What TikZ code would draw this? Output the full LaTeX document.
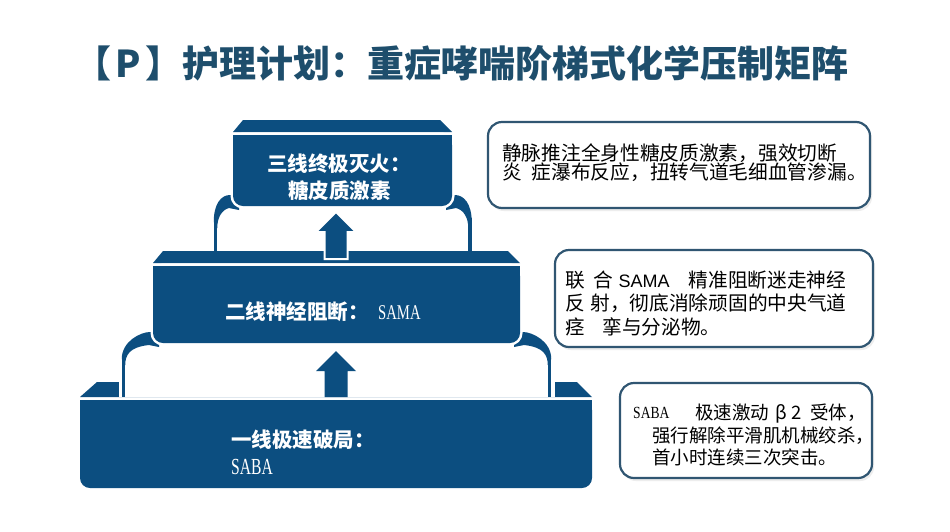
\documentclass[tikz,border=0pt]{standalone}
\usepackage{fontspec}
\usepackage{graphicx}
\setmainfont{Liberation Serif}
\newfontfamily\cjk{Noto Sans CJK SC}
\newfontfamily\arialf{Liberation Sans}
\newfontfamily\tnrf{Liberation Serif}
\definecolor{tierc}{RGB}{12,78,128}
\definecolor{ttlc}{RGB}{30,78,108}
\definecolor{cbord}{RGB}{48,86,114}
\newcommand\myflare[4]{%
\fill[tierc] ({#1-(#4)*1.75},{#3+16}) .. controls ({#1-(#4)*1.75},{#3-2}) and ({#2-(#4)*12},{#3-11}) .. ({#2-(#4)*3},{#3-11}) -- ({#2+(#4)*6},{#3-11}) -- ({#2+(#4)*6},{#3+4}) -- ({#2-(#4)*4},{#3+2}) .. controls ({#1+(#4)*6},{#3+4}) and ({#1+(#4)*1.75},{#3+12}) .. ({#1+(#4)*1.75},{#3+22}) -- cycle;}
\begin{document}
\begin{tikzpicture}[x=1pt,y=-1pt,
  tiertxt/.style={text=white, font=\cjk\bfseries\fontsize{20.5}{20.5}\selectfont, inner sep=0pt, anchor=base west},
  sertxt/.style={text=white, inner sep=0pt, anchor=base west},
  cbox/.style={draw=cbord, line width=2.2pt, fill=white, rounded corners=14pt},
  cshadow/.style={fill=black!7, rounded corners=14pt},
  ctxt/.style={text=black, font=\cjk\fontsize{19.7}{19.7}\selectfont, inner sep=0pt, anchor=base west},
  ctxtb/.style={text=black, font=\cjk\fontsize{18.5}{18.5}\selectfont, inner sep=0pt, anchor=base west},
  fline/.style={draw=tierc, line width=3.5pt},
  fhalo/.style={draw=white, line width=10pt},
  boxgap/.style={draw=white, line width=5pt, rounded corners=10pt}]
\useasboundingbox (0,0) rectangle (950,531);
\fill[white] (0,0) rectangle (950,531);

% title
\node[text=ttlc, font=\cjk\bfseries\fontsize{37}{37}\selectfont, inner sep=0pt, anchor=base] (title) at (461.5,77) {【\hspace{4pt}P\hspace{4pt}】护理计划：重症哮喘阶梯式化学压制矩阵};

% ---------- bottom tier ----------
\fill[tierc] (80,397) -- (97,382) -- (577,382) -- (592,397) -- cycle;
\fill[tierc, rounded corners=10pt] (80,400) rectangle (592,488);
\fill[tierc] (80,400) rectangle (592,414);

% frame 1
\fill[white] (123.5,343) rectangle (549.5,397);
\draw[fhalo] (123.5,352) -- (123.5,397) (549.5,352) -- (549.5,397);
\draw[fline] (123.5,355) -- (123.5,397) (549.5,355) -- (549.5,397);
\myflare{123.5}{153}{343}{1}
\myflare{549.5}{520}{343}{-1}
% arrow 1
\fill[tierc] (336,351) -- (356,371) -- (347.5,371) -- (347.5,397) -- (324.5,397) -- (324.5,371) -- (316,371) -- cycle;

% ---------- middle tier ----------
\fill[tierc] (153,263) -- (163,251) -- (508,251) -- (520,263) -- cycle;
\draw[boxgap] (153,266) rectangle (520,343);
\fill[tierc, rounded corners=10pt] (153,266) rectangle (520,343);
\fill[tierc] (153,266) rectangle (520,280);

% frame 2
\fill[white] (215.5,206) rectangle (470,251);
\draw[fline] (215.5,218) -- (215.5,251) (470,218) -- (470,251);
\myflare{215.5}{233}{206}{1}
\myflare{470}{452}{206}{-1}
% arrow 2
\filldraw[fill=tierc, draw=white, line width=2pt] (336,212) -- (356,232) -- (347.5,232) -- (347.5,259) -- (324.5,259) -- (324.5,232) -- (316,232) -- cycle;

% ---------- top tier ----------
\fill[tierc] (233,132) -- (243,120) -- (440,120) -- (452,132) -- cycle;
\draw[boxgap] (233,135) rectangle (452,206);
\fill[tierc, rounded corners=10pt] (233,135) rectangle (452,206);
\fill[tierc] (233,135) rectangle (452,148);

% tier texts
\node[tiertxt] (t3a) at (267,171) {三线终极灭火：};
\node[tiertxt] (t3b) at (288,198) {糖皮质激素};
\node[tiertxt] (t2a) at (225,319.5) {二线神经阻断：};
\node[sertxt, font=\tnrf\fontsize{21}{21}\selectfont] (t2b) at (378,319) {\scalebox{0.7}[1]{SAMA}};
\node[tiertxt] (t1a) at (231,447.5) {一线极速破局：};
\node[sertxt, font=\tnrf\fontsize{23}{23}\selectfont] (t1b) at (231,474) {\scalebox{0.68}[1]{SABA}};

% ---------- callouts ----------
\fill[cshadow] (490,125) rectangle (872,211);
\draw[cbox] (488,122) rectangle (870,208);
\node[ctxt] (c1a) at (502,160.5) {静脉推注全身性糖皮质激素，强效切断};
\node[ctxt] (c1b) at (502,179.5) {炎\hspace{10pt}症瀑布反应，扭转气道毛细血管渗漏。};

\fill[cshadow] (557,253) rectangle (875,350);
\draw[cbox] (555,250) rectangle (873,347);
\node[ctxt] (c2a) at (565,287.5) {联\hspace{8.5pt}合\hspace{5.5pt}{\arialf\fontsize{18}{18}\selectfont SAMA}\hspace{19pt}精准阻断迷走神经};
\node[ctxt] (c2b) at (565,310.5) {反\hspace{5.5pt}射，彻底消除顽固的中央气道};
\node[ctxt] (c2c) at (565,334.5) {痉\hspace{17.5pt}挛与分泌物。};

\fill[cshadow] (622,386) rectangle (874,481);
\draw[cbox] (620,383) rectangle (872,478);
\node[text=black, inner sep=0pt, anchor=base west, font=\tnrf\fontsize{17}{17}\selectfont] (c3s) at (633,418) {\scalebox{0.8}[1]{SABA}};
\node[ctxtb] (c3a) at (695,419) {极速激动\hspace{6pt}β\hspace{5pt}2\hspace{8pt}受体，};
\node[ctxtb] (c3b) at (652,442) {强行解除平滑肌机械绞杀，};
\node[ctxtb] (c3c) at (652,464) {首小时连续三次突击。};
\end{tikzpicture}
\end{document}
